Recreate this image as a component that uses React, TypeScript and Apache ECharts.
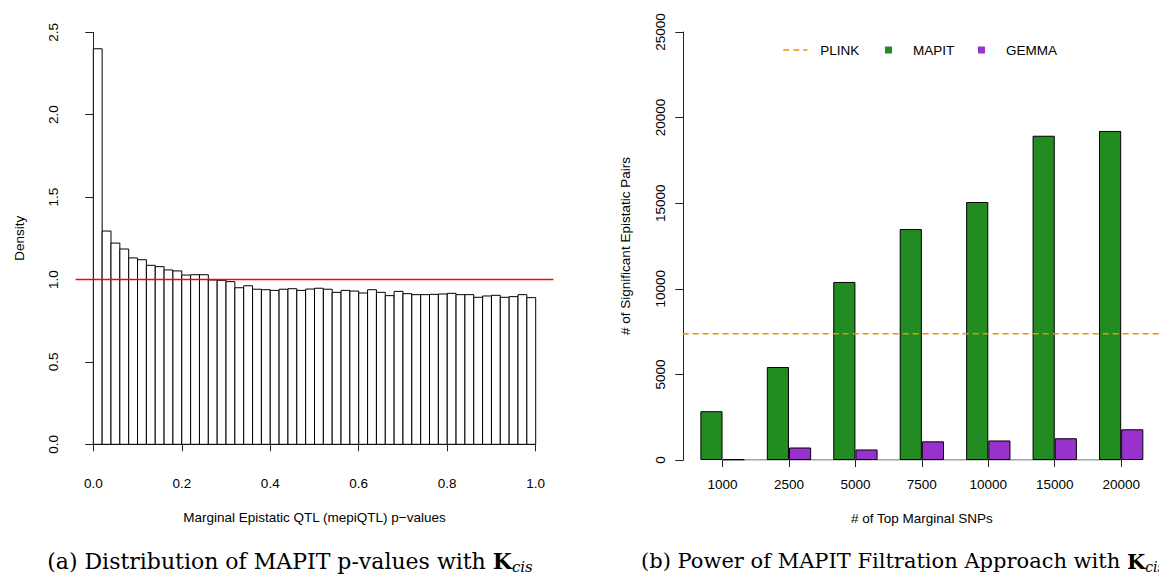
import React, { useEffect, useRef } from 'react';
import * as echarts from 'echarts';

// ---------- Data ----------
// (a) histogram of MAPIT p-values: 50 bins over [0, 1], density per bin
const DENSITY = [
  2.40, 1.294, 1.221, 1.185, 1.131, 1.120, 1.086, 1.078, 1.058, 1.052,
  1.027, 1.029, 1.029, 0.997, 0.995, 0.987, 0.950, 0.962, 0.941, 0.938,
  0.934, 0.941, 0.944, 0.934, 0.942, 0.947, 0.941, 0.922, 0.934, 0.930,
  0.918, 0.938, 0.922, 0.902, 0.928, 0.914, 0.908, 0.908, 0.910, 0.912,
  0.916, 0.908, 0.908, 0.892, 0.900, 0.904, 0.892, 0.896, 0.908, 0.890,
];
const HIST_RANGE = [0, 1];
const UNIFORM_DENSITY = 1;

// (b) power of the filtration approach
const SNP_COUNTS = ['1000', '2500', '5000', '7500', '10000', '15000', '20000'];
const MAPIT = [2850, 5430, 10400, 13490, 15070, 18940, 19220];
const GEMMA = [40, 730, 615, 1090, 1140, 1270, 1795];
const PLINK = 7370;

// ---------- Styling ----------
const SANS = '"Liberation Sans", Arial, Helvetica, sans-serif';
const SERIF = '"DejaVu Serif", serif';
const FS = 13.5;
const AX = '#222';
const RED = 'rgb(255,0,0)';
const PLINK_COLOR = '#E69500';
const PLINK_DASH = [6, 4];

const binWidth = (HIST_RANGE[1] - HIST_RANGE[0]) / DENSITY.length;
const histData = DENSITY.map((d, i) => [
  HIST_RANGE[0] + i * binWidth,
  HIST_RANGE[0] + (i + 1) * binWidth,
  d,
]);

const labelStyle = { color: '#000', fontFamily: SANS, fontSize: FS };
const nameStyle = { color: '#000', fontFamily: SANS, fontSize: FS };

function captionRich(size: number) {
  return {
    n: { fontFamily: SERIF, fontSize: size, fill: '#000', color: '#000', lineHeight: size + 4 },
    k: { fontFamily: SERIF, fontSize: size, fontWeight: 'bold', fill: '#000', color: '#000', lineHeight: size + 4 },
    s: { fontFamily: SERIF, fontSize: Math.round(size * 0.68), fontStyle: 'italic', fill: '#000', color: '#000', lineHeight: Math.round(size * 0.68), verticalAlign: 'bottom' },
  };
}

function legendItem(name: string, left: number, pad: number, extra: any) {
  return {
    data: [name],
    left,
    top: 43,
    padding: 0,
    orient: 'horizontal',
    selectedMode: false,
    formatter: (n: string) => `{t|${n}}`,
    textStyle: {
      color: '#000',
      fontFamily: SANS,
      fontSize: FS,
      rich: { t: { color: '#000', fontFamily: SANS, fontSize: FS, padding: [0, 0, 0, pad] } },
    },
    ...extra,
  };
}

// horizontal reference line drawn across an x-extent (in axis units)
function hLineRenderer(x0: number, x1: number, y: number, style: any) {
  return (params: any, api: any) => {
    if (params.dataIndex !== 0) return null;
    const a = api.coord([x0, y]);
    const b = api.coord([x1, y]);
    return {
      type: 'line',
      shape: { x1: a[0], y1: a[1], x2: b[0], y2: b[1] },
      style: { fill: 'none', ...style },
    };
  };
}

export default function App() {
  const ref = useRef<HTMLDivElement>(null);

  useEffect(() => {
    if (!ref.current) return;
    const chart = echarts.init(ref.current, undefined, { renderer: 'svg' });

    const option: any = {
      animation: false,
      backgroundColor: '#fff',
      grid: [
        { left: 93.3, right: 1159 - 535.7, top: 32.3, bottom: 583 - 444.3 },
        { left: 689.3, right: 1159 - 1154.4, top: 32, bottom: 583 - 460 },
      ],
      xAxis: [
        {
          gridIndex: 0,
          type: 'value',
          min: HIST_RANGE[0],
          max: HIST_RANGE[1],
          interval: 0.2,
          offset: 16.4,
          axisLine: { show: true, lineStyle: { color: AX, width: 1 } },
          axisTick: { show: true, length: 7, lineStyle: { color: AX } },
          axisLabel: { ...labelStyle, margin: 16, formatter: (v: number) => v.toFixed(1) },
          splitLine: { show: false },
          name: 'Marginal Epistatic QTL (mepiQTL) p\u2212values',
          nameLocation: 'middle',
          nameGap: 50,
          nameTextStyle: nameStyle,
        },
        {
          gridIndex: 1,
          type: 'category',
          data: SNP_COUNTS,
          axisLine: { show: false },
          axisTick: { show: true, alignWithLabel: true, length: 7, lineStyle: { color: AX } },
          axisLabel: { ...labelStyle, margin: 17 },
          splitLine: { show: false },
          name: '# of Top Marginal SNPs',
          nameLocation: 'middle',
          nameGap: 51,
          nameTextStyle: nameStyle,
        },
        {
          // hidden helper axis in R bar units (bars occupy 1..21, band edges 0.5..21.5)
          gridIndex: 1,
          type: 'value',
          min: 0.5,
          max: 21.5,
          show: false,
        },
      ],
      yAxis: [
        {
          gridIndex: 0,
          type: 'value',
          min: 0,
          max: 2.5,
          interval: 0.5,
          offset: 17.3,
          axisLine: { show: true, lineStyle: { color: AX, width: 1 } },
          axisTick: { show: true, length: 8, lineStyle: { color: AX } },
          axisLabel: { ...labelStyle, rotate: 90, margin: 16, formatter: (v: number) => v.toFixed(1) },
          splitLine: { show: false },
          name: 'Density',
          nameLocation: 'middle',
          nameGap: 50,
          nameTextStyle: nameStyle,
        },
        {
          gridIndex: 1,
          type: 'value',
          min: 0,
          max: 25000,
          interval: 5000,
          offset: 6,
          axisLine: { show: true, lineStyle: { color: AX, width: 1 } },
          axisTick: { show: true, length: 8, lineStyle: { color: AX } },
          axisLabel: { ...labelStyle, rotate: 90, margin: 16, formatter: (v: number) => String(v) },
          splitLine: { show: false },
          name: '# of Significant Epistatic Pairs',
          nameLocation: 'middle',
          nameGap: 51,
          nameTextStyle: nameStyle,
        },
      ],
      legend: [
        legendItem('PLINK', 782.5, 8, {
          itemWidth: 24,
          itemHeight: 10,
          lineStyle: { width: 1.5, color: PLINK_COLOR, type: PLINK_DASH },
          itemStyle: { opacity: 0, color: 'rgba(0,0,0,0)', borderWidth: 0 },
        }),
        legendItem('MAPIT', 885, 16, {
          itemWidth: 7,
          itemHeight: 7,
          icon: 'rect',
          itemStyle: { borderWidth: 0 },
        }),
        legendItem('GEMMA', 978, 16, {
          itemWidth: 7,
          itemHeight: 7,
          icon: 'rect',
          itemStyle: { borderWidth: 0 },
        }),
      ],
      series: [
        {
          type: 'custom',
          name: 'hist',
          xAxisIndex: 0,
          yAxisIndex: 0,
          data: histData,
          encode: { x: [0, 1], y: 2 },
          renderItem: (params: any, api: any) => {
            const p0 = api.coord([api.value(0), api.value(2)]);
            const p1 = api.coord([api.value(1), 0]);
            return {
              type: 'rect',
              shape: { x: p0[0], y: p0[1], width: p1[0] - p0[0], height: p1[1] - p0[1] },
              style: { fill: '#fff', stroke: '#000', lineWidth: 1 },
            };
          },
          silent: true,
          z: 2,
        },
        {
          // uniform-density reference line across R's plot region (4% beyond [0, 1])
          type: 'custom',
          name: 'uniform',
          xAxisIndex: 0,
          yAxisIndex: 0,
          data: [[UNIFORM_DENSITY]],
          renderItem: hLineRenderer(-0.04, 1.04, UNIFORM_DENSITY, { stroke: RED, lineWidth: 1.3 }),
          clip: false,
          silent: true,
          z: 10,
        },
        {
          type: 'line',
          name: 'baseline',
          xAxisIndex: 1,
          yAxisIndex: 1,
          data: [[SNP_COUNTS[0], 0], [SNP_COUNTS[SNP_COUNTS.length - 1], 0]],
          symbol: 'none',
          lineStyle: { color: '#444', width: 1 },
          silent: true,
          z: 1,
        },
        {
          type: 'bar',
          name: 'MAPIT',
          xAxisIndex: 1,
          yAxisIndex: 1,
          data: MAPIT,
          barGap: '0%',
          barCategoryGap: '33.333%',
          itemStyle: { color: '#228B22', borderColor: '#000', borderWidth: 1 },
          silent: true,
          z: 2,
        },
        {
          type: 'bar',
          name: 'GEMMA',
          xAxisIndex: 1,
          yAxisIndex: 1,
          data: GEMMA,
          barGap: '0%',
          barCategoryGap: '33.333%',
          itemStyle: { color: '#9932CC', borderColor: '#000', borderWidth: 1 },
          silent: true,
          z: 2,
        },
        {
          // legend entry for PLINK (dashed line)
          type: 'line',
          name: 'PLINK',
          xAxisIndex: 2,
          yAxisIndex: 1,
          data: [],
          symbol: 'none',
          lineStyle: { color: PLINK_COLOR, width: 1.5, type: PLINK_DASH },
          itemStyle: { color: PLINK_COLOR },
          silent: true,
        },
        {
          // PLINK significant pairs across R's bar plot region: 0.2 .. 21.8 in bar units
          type: 'custom',
          name: 'PLINK line',
          xAxisIndex: 2,
          yAxisIndex: 1,
          data: [[PLINK]],
          renderItem: hLineRenderer(0.2, 21.8, PLINK, {
            stroke: PLINK_COLOR,
            lineWidth: 1.5,
            lineDash: PLINK_DASH,
          }),
          clip: false,
          silent: true,
          z: 5,
        },
      ],
      graphic: [
        {
          type: 'text',
          x: 290,
          y: 561,
          style: {
            text: '{n|(a) Distribution of MAPIT p-values with }{k|K}{s|cis}',
            rich: captionRich(22),
            textAlign: 'center',
            align: 'center',
            textVerticalAlign: 'middle',
            verticalAlign: 'middle',
          },
        },
        {
          type: 'text',
          x: 641,
          y: 561,
          style: {
            text: '{n|(b) Power of MAPIT Filtration Approach with }{k|K}{s|cis}',
            rich: captionRich(21),
            textAlign: 'left',
            align: 'left',
            textVerticalAlign: 'middle',
            verticalAlign: 'middle',
          },
        },
      ],
    };

    chart.setOption(option);
    return () => chart.dispose();
  }, []);

  return (
    <div
      ref={ref}
      style={{ position: 'fixed', left: 0, top: 0, width: 1159, height: 583, background: '#fff' }}
    />
  );
}
